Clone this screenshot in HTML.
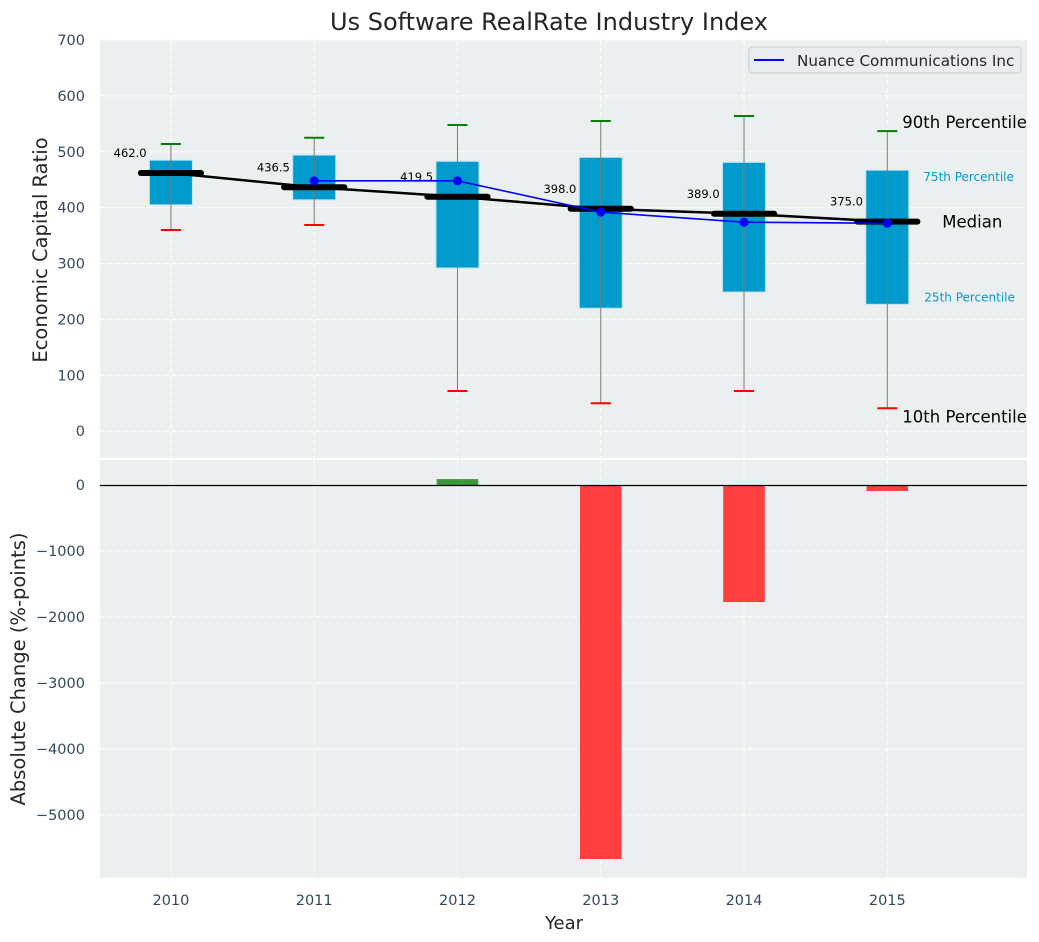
<!DOCTYPE html>
<html><head><meta charset="utf-8"><style>
html,body{margin:0;padding:0;background:#fff;}
svg{display:block;font-family:"DejaVu Sans","Liberation Sans",sans-serif;}
</style></head><body>
<svg id="c" width="1039" height="942" viewBox="0 0 1039 942" xmlns="http://www.w3.org/2000/svg">
<text x="549" y="30" font-size="24" text-anchor="middle" fill="#262626">Us Software RealRate Industry Index</text>
<g id="topPanel"></g>
<g id="botPanel"></g>
</svg>
<script>
const years = [2010, 2011, 2012, 2013, 2014, 2015];
const q1 = [405, 414, 292, 220, 249, 227];
const q3 = [485, 494, 483, 490, 481, 467];
const p10 = [360, 369, 72, 50, 72, 41];
const p90 = [514, 525, 548, 555, 564, 537];
const medians = [462.0, 436.5, 419.5, 398.0, 389.0, 375.0];
const companyYears = [2011, 2012, 2013, 2014, 2015];
const companyValues = [448, 448, 392, 374, 372];
const changeValues = [0, 0, 90, -5667, -1773, -90];
const topTicks = [0, 100, 200, 300, 400, 500, 600, 700];
const botTicks = [0, -1000, -2000, -3000, -4000, -5000];

const NS = 'http://www.w3.org/2000/svg';
const L = 100, R = 1027;
const tT = 40, tB = 458, tMin = -48, tMax = 700;
const bT = 460, bB = 878, bMin = -5955, bMax = 379;
const xMin = 2009.505, xMax = 2015.975;
const x = v => L + (v - xMin) / (xMax - xMin) * (R - L);
const yt = v => tB - (v - tMin) / (tMax - tMin) * (tB - tT);
const yb = v => bB - (v - bMin) / (bMax - bMin) * (bB - bT);
function mk(parent, tag, attrs, text) {
  const el = document.createElementNS(NS, tag);
  for (const k in attrs) el.setAttribute(k, attrs[k]);
  if (text !== undefined) el.textContent = text;
  parent.appendChild(el);
  return el;
}
const topG = document.getElementById('topPanel'), botG = document.getElementById('botPanel');
let e;
e = mk(topG, 'rect', {x: L, y: tT, width: R - L, height: tB - tT, fill: '#eceff0'});


e = mk(botG, 'rect', {x: L, y: bT, width: R - L, height: bB - bT, fill: '#eceff0'});


years.forEach(yr => {
  e = mk(topG, 'line', {x1: x(yr), x2: x(yr), y1: tT, y2: tB, stroke: '#fff', 'stroke-dasharray': '5,3', 'stroke-width': 1});
  
  
  e = mk(botG, 'line', {x1: x(yr), x2: x(yr), y1: bT, y2: bB, stroke: '#fff', 'stroke-dasharray': '5,3', 'stroke-width': 1});
  
  
  e = mk(botG, 'text', {x: x(yr), y: 905, 'font-size': 14.5, 'text-anchor': 'middle', fill: '#34495e'}, String(yr));
  
  
});
topTicks.forEach(t => {
  e = mk(topG, 'line', {x1: L, x2: R, y1: yt(t), y2: yt(t), stroke: '#fff', 'stroke-dasharray': '5,3'});
  
  
  e = mk(topG, 'text', {x: 85, y: yt(t) + 5, 'font-size': 14.5, 'text-anchor': 'end', fill: '#34495e'}, String(t));
  
  
});
botTicks.forEach(t => {
  e = mk(botG, 'line', {x1: L, x2: R, y1: yb(t), y2: yb(t), stroke: '#fff', 'stroke-dasharray': '5,3'});
  
  
  e = mk(botG, 'text', {x: 85, y: yb(t) + 5, 'font-size': 14.5, 'text-anchor': 'end', fill: '#34495e'}, t === 0 ? '0' : '\u2212' + Math.abs(t));
  
  
});
const bw = 0.3, mw = 0.42, cw = 0.14;
years.forEach((yr, i) => {
  e = mk(topG, 'rect', {x: x(yr - bw / 2), y: yt(q3[i]), width: x(yr + bw / 2) - x(yr - bw / 2), height: yt(q1[i]) - yt(q3[i]), fill: '#009bcc', stroke: '#bfe4f0', 'stroke-width': 1});
  
  
  e = mk(topG, 'line', {x1: x(yr), x2: x(yr), y1: yt(p90[i]), y2: yt(p10[i]), stroke: '#7a7a7a', 'stroke-width': 1});
  
  
  e = mk(topG, 'line', {x1: x(yr - cw / 2), x2: x(yr + cw / 2), y1: yt(p90[i]), y2: yt(p90[i]), stroke: 'green', 'stroke-width': 2});
  
  
  e = mk(topG, 'line', {x1: x(yr - cw / 2), x2: x(yr + cw / 2), y1: yt(p10[i]), y2: yt(p10[i]), stroke: 'red', 'stroke-width': 2});
  
  
});
e = mk(topG, 'polyline', {points: years.map((yr, i) => x(yr) + ',' + yt(medians[i])).join(' '), fill: 'none', stroke: '#000', 'stroke-width': 2.5});


years.forEach((yr, i) => {
  e = mk(topG, 'line', {x1: x(yr - mw / 2), x2: x(yr + mw / 2), y1: yt(medians[i]), y2: yt(medians[i]), stroke: '#000', 'stroke-width': 6, 'stroke-linecap': 'round'});
  
  
  e = mk(topG, 'text', {x: x(yr - 0.17), y: yt(medians[i]) - 16, 'font-size': 11.5, 'text-anchor': 'end', fill: '#000'}, medians[i].toFixed(1));
  
  
});
e = mk(topG, 'polyline', {points: companyYears.map((yr, i) => x(yr) + ',' + yt(companyValues[i])).join(' '), fill: 'none', stroke: 'blue', 'stroke-width': 1.6});


companyYears.forEach((yr, i) => {
  e = mk(topG, 'circle', {cx: x(yr), cy: yt(companyValues[i]), r: 4.5, fill: 'blue'});
  
  
});
const last = years.length - 1, lx = x(years[last]);
[['90th Percentile', lx + 15, yt(p90[last]) - 3, 16.5, '#000', 'label-90th'],
 ['75th Percentile', lx + 36, yt(q3[last]) + 11, 12, '#009bcc', 'label-75th'],
 ['Median', lx + 55, yt(medians[last]) + 6, 16.5, '#000', 'label-median'],
 ['25th Percentile', lx + 37, yt(q1[last]) - 3, 12, '#009bcc', 'label-25th'],
 ['10th Percentile', lx + 15, yt(p10[last]) + 14, 16.5, '#000', 'label-10th']].forEach(a => {
  e = mk(topG, 'text', {x: a[1], y: a[2], 'font-size': a[3], fill: a[4]}, a[0]);
  
  
});
e = mk(topG, 'g', {});


mk(e, 'rect', {x: 749, y: 47, width: 272, height: 26, rx: 3, fill: '#eaecf0', stroke: '#cccccc'});
mk(e, 'line', {x1: 754, x2: 784, y1: 60, y2: 60, stroke: 'blue', 'stroke-width': 2});
mk(e, 'text', {x: 797, y: 66, 'font-size': 15.2, fill: '#262626'}, 'Nuance Communications Inc');
years.forEach((yr, i) => {
  const v = changeValues[i];
  if (v === 0) return;
  e = mk(botG, 'rect', {x: x(yr - 0.145), y: Math.min(yb(0), yb(v)), width: x(yr + 0.145) - x(yr - 0.145), height: Math.abs(yb(v) - yb(0)), fill: v > 0 ? '#3a9a3a' : '#ff3f3f'});
  
  
});
e = mk(botG, 'line', {x1: L, x2: R, y1: Math.round(yb(0)) + 0.5, y2: Math.round(yb(0)) + 0.5, stroke: '#000', 'stroke-width': 1.2});


e = mk(topG, 'text', {x: 47, y: 250, 'font-size': 19.5, 'text-anchor': 'middle', fill: '#262626', transform: 'rotate(-90 47 250)'}, 'Economic Capital Ratio');


e = mk(botG, 'text', {x: 25, y: 669, 'font-size': 19.5, 'text-anchor': 'middle', fill: '#262626', transform: 'rotate(-90 25 669)'}, 'Absolute Change (%-points)');


e = mk(botG, 'text', {x: 564, y: 929, 'font-size': 18, 'text-anchor': 'middle', fill: '#262626'}, 'Year');


</script>
</body></html>
